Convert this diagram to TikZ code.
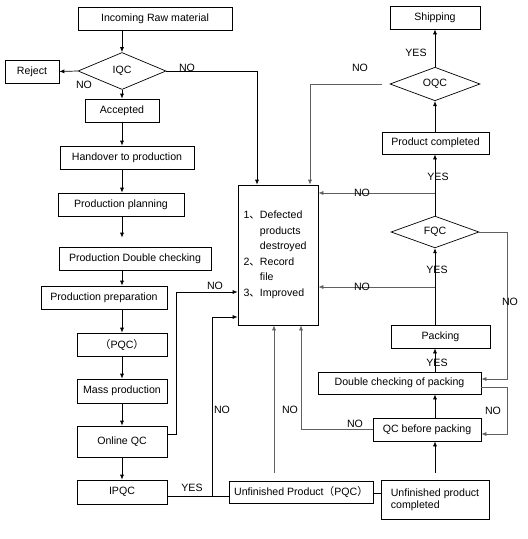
\documentclass[tikz,border=0pt]{standalone}
\usepackage{fontspec}
\setmainfont{Liberation Sans}
\newfontfamily\cjk{Noto Sans CJK SC}
\usetikzlibrary{shapes.geometric,arrows.meta}
\tikzset{
  stepbox/.style={draw, rectangle, inner sep=2pt, minimum height=23pt, line width=0.7pt, font=\fontsize{10.6}{12}\selectfont},
  check/.style={draw, diamond, inner sep=0pt, line width=0.7pt, font=\fontsize{10.6}{12}\selectfont},
  flow/.style={line width=0.7pt, -{Latex[length=5pt,width=4pt]}},
  back/.style={flow, draw=gray!75!black},
  lbl/.style={inner sep=0pt, font=\fontsize{10.6}{12}\selectfont}
}
\begin{document}
\begin{tikzpicture}[x=1pt, y=-1pt]
  \useasboundingbox (0,0) rectangle (528,539);
  % left column
  \node[stepbox, minimum width=154pt] (raw) at (155,18.5) {Incoming Raw material};
  \node[check, minimum width=88pt, minimum height=37pt] (iqc) at (122,71) {IQC};
  \node[stepbox, minimum width=54pt] (reject) at (32,71.5) {Reject};
  \node[stepbox, minimum width=74pt] (acc) at (122,110.5) {Accepted};
  \node[stepbox, minimum width=134pt] (hand) at (127,157.5) {Handover to production};
  \node[stepbox, minimum width=126pt] (plan) at (121,204.5) {Production planning};
  \node[stepbox, minimum width=152pt] (dblc) at (135,258.5) {Production Double checking};
  \node[stepbox, minimum width=126pt] (prep) at (104,297.5) {Production preparation};
  \node[stepbox, minimum width=90pt] (pqc) at (122,344.5) {{\cjk （}PQC{\cjk ）}};
  \node[stepbox, minimum width=90pt, minimum height=24pt] (mass) at (122,391) {Mass production};
  \node[stepbox, minimum width=90pt, minimum height=31pt] (online) at (122,441.5) {Online QC};
  \node[stepbox, minimum width=90pt, minimum height=24pt] (ipqc) at (122,492) {IPQC};
  % middle
  \node[draw, line width=0.7pt, minimum width=80pt, minimum height=140pt, text width=69pt,
        inner xsep=5.5pt, align=left, font=\fontsize{10.6}{15.5}\selectfont] (fix) at (278,255)
    {1{\cjk 、}Defected\\\phantom{1{\cjk 、}}products\\\phantom{1{\cjk 、}}destroyed\\
     2{\cjk 、}Record\\\phantom{2{\cjk 、}}file\\3{\cjk 、}Improved};
  \node[stepbox, minimum width=144pt, minimum height=22pt] (unf) at (301,492) {Unfinished Product{\cjk （}PQC{\cjk ）}};
  % right column
  \node[stepbox, minimum width=90pt] (ship) at (435,17.5) {Shipping};
  \node[check, minimum width=90pt, minimum height=31pt] (oqc) at (435,84) {OQC};
  \node[stepbox, minimum width=107pt, minimum height=22pt] (prod) at (435.5,143) {Product completed};
  \node[check, minimum width=88pt, minimum height=31pt] (fqc) at (435,232) {FQC};
  \node[stepbox, minimum width=99pt] (pack) at (440.5,336.5) {Packing};
  \node[stepbox, minimum width=163pt, minimum height=22pt] (dpk) at (399.5,383) {Double checking of packing};
  \node[stepbox, minimum width=108pt] (qcb) at (427,429.5) {QC before packing};
  \node[stepbox, minimum width=108pt, minimum height=39pt, align=left] (unfc) at (435,499.5) {Unfinished product\\completed};

  % main flow, left
  \draw[flow] (iqc.north |- raw.south) -- (iqc.north);
  \draw[flow] (iqc.west) -- (reject.east);
  \draw[flow] (iqc.south) -- (acc.north);
  \draw[flow] (acc.south) -- (acc.south |- hand.north);
  \draw[flow] (acc.south |- hand.south) -- (acc.south |- plan.north);
  \draw[flow, shorten >=9pt] (acc.south |- plan.south) -- (acc.south |- dblc.north);
  \draw[flow] (acc.south |- dblc.south) -- (acc.south |- prep.north);
  \draw[flow] (acc.south |- prep.south) -- (pqc.north);
  \draw[flow] (pqc.south) -- (mass.north);
  \draw[flow] (mass.south) -- (online.north);
  \draw[flow] (online.south) -- (ipqc.north);
  \coordinate (jn) at (212,496);
  \draw[line width=0.7pt] (ipqc.east |- jn) -- (unf.west |- jn);
  \draw[line width=0.7pt] (unf.east |- 0,493) -- (unfc.west |- 0,493);

  % feedback to the big box
  \draw[flow] (iqc.east) -| ([xshift=-21pt]fix.north);
  \draw[back] ([xshift=-8pt]oqc.west) -| ([xshift=32pt]fix.north);
  \draw[flow] (online.east |- 0,434) -- (176,434) -- (176,292) -- (fix.west |- 0,292);
  \draw[flow] (jn) -- (212,317) -- (fix.west |- 0,317);
  \draw[back, shorten <=8pt] (unf.north -| 274,0) -- (fix.south -| 274,0);
  \draw[back] (qcb.west) -| (fix.south -| 301,0);
  \draw[back] (fqc.north |- 0,193) -- (fix.east |- 0,193);
  \draw[back] (fqc.south |- 0,287) -- (fix.east |- 0,287);

  % main flow, right
  \draw[flow, shorten <=7pt] (unfc.north) -- (unfc.north |- qcb.south);
  \draw[flow] (unfc.north |- qcb.north) -- (unfc.north |- dpk.south);
  \draw[flow] (unfc.north |- dpk.north) -- (unfc.north |- pack.south);
  \draw[flow] (unfc.north |- pack.north) -- (fqc.south);
  \draw[flow] (fqc.north) -- (fqc.north |- prod.south);
  \draw[flow] (fqc.north |- prod.north) -- (oqc.south);
  \draw[flow] (oqc.north) -- (oqc.north |- ship.south);
  \draw[back] (fqc.east) -- (507,232) -- (507,379) -- (dpk.east |- 0,379);
  \draw[back] (dpk.east |- 0,387) -- (507,387) -- (507,434) -- (qcb.east |- 0,434);

  % labels
  \node[lbl] (l1) at (84,85) {NO};
  \node[lbl] (l2) at (187,68) {NO};
  \node[lbl] (l3) at (215,286) {NO};
  \node[lbl] (l4) at (222,410) {NO};
  \node[lbl] (l5) at (192,488) {YES};
  \node[lbl] (l6) at (290,410) {NO};
  \node[lbl] (l7) at (355,424) {NO};
  \node[lbl] (l8) at (360,68) {NO};
  \node[lbl] (l9) at (416,53) {YES};
  \node[lbl] (l10) at (438,177) {YES};
  \node[lbl] (l11) at (362,193) {NO};
  \node[lbl] (l12) at (437,270) {YES};
  \node[lbl] (l13) at (362,287) {NO};
  \node[lbl] (l14) at (510,302) {NO};
  \node[lbl] (l15) at (437,363) {YES};
  \node[lbl] (l16) at (493,411) {NO};
\end{tikzpicture}
\end{document}
